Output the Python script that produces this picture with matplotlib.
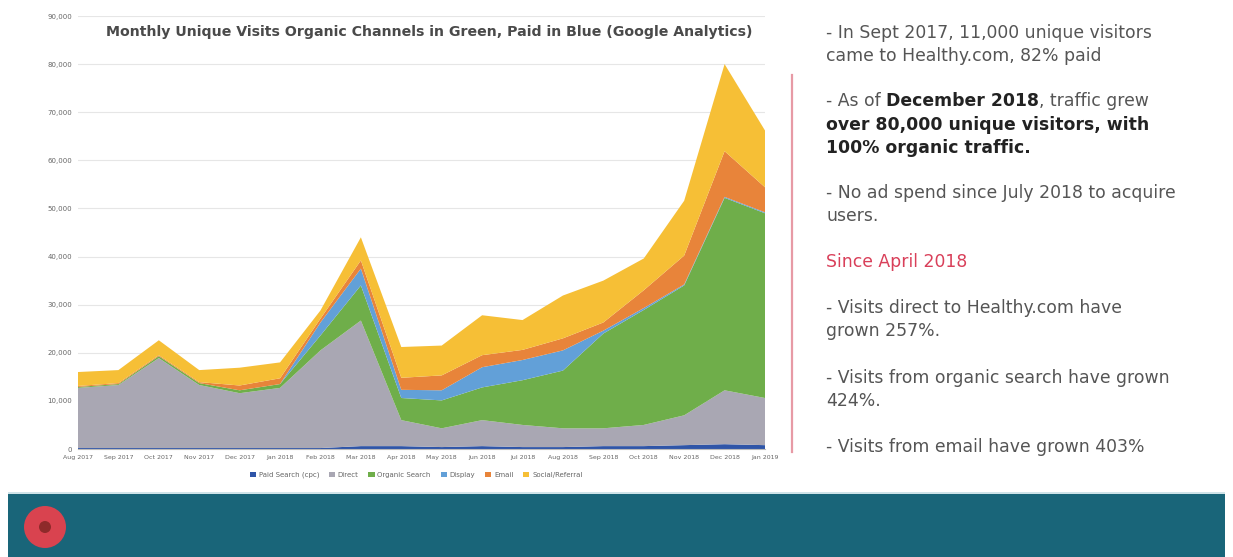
import matplotlib
matplotlib.use("Agg")
import matplotlib.pyplot as plt
from matplotlib.patches import Rectangle, Ellipse
import numpy as np

# ---------------- data ----------------
months = ["Aug 2017", "Sep 2017", "Oct 2017", "Nov 2017", "Dec 2017", "Jan 2018",
          "Feb 2018", "Mar 2018", "Apr 2018", "May 2018", "Jun 2018", "Jul 2018",
          "Aug 2018", "Sep 2018", "Oct 2018", "Nov 2018", "Dec 2018", "Jan 2019"]

paid_search = [200, 200, 200, 200, 200, 200, 200, 600, 600, 400, 600, 400,
               400, 600, 600, 800, 1000, 800]
direct = [12500, 13100, 18700, 13100, 11400, 12500, 20300, 26100, 5400, 3900, 5400, 4600,
          3900, 3700, 4400, 6200, 11200, 9800]
organic = [200, 200, 400, 400, 600, 800, 3100, 7300, 4600, 5800, 6800, 9300,
           12000, 19700, 23900, 27000, 40000, 38400]
display = [0, 0, 0, 0, 0, 0, 2700, 3500, 1700, 2100, 4200, 4200,
           4200, 600, 400, 200, 200, 200]
email = [200, 200, 200, 200, 1000, 1200, 800, 1700, 2500, 3100, 2500, 2100,
         2500, 1700, 3700, 6000, 9500, 5200]
social = [2900, 2700, 3100, 2500, 3700, 3300, 1700, 4800, 6400, 6200, 8300, 6200,
          8900, 8700, 6600, 11400, 18100, 11800]

series_labels = ["Paid Search (cpc)", "Direct", "Organic Search", "Display", "Email", "Social/Referral"]
series_colors = ["#2f55a8", "#a9a7b3", "#6fae4a", "#62a0d8", "#e8843a", "#f6bf36"]

y_ticks = [0, 10000, 20000, 30000, 40000, 50000, 60000, 70000, 80000, 90000]

title = "Monthly Unique Visits Organic Channels in Green, Paid in Blue (Google Analytics)"

# ---------------- figure ----------------
W, H = 1233, 557
fig = plt.figure(figsize=(W / 100, H / 100), dpi=100)
fig.patch.set_facecolor("white")

def fx(px):
    return px / W

def fy(py):
    return 1 - py / H

ax = fig.add_axes([fx(78), fy(449), fx(765) - fx(78), fy(16) - fy(449)])
x = np.arange(len(months))
polys = ax.stackplot(x, paid_search, direct, organic, display, email, social,
                     colors=series_colors, labels=series_labels, linewidth=0)
ax.set_xlim(0, len(months) - 1)
ax.set_ylim(0, 90000)
ax.set_yticks(y_ticks)
ax.set_yticklabels([f"{v:,}" for v in y_ticks], fontsize=5, color="#666666")
ax.set_xticks(x)
ax.set_xticklabels(months, fontsize=4.5, color="#666666")
ax.tick_params(length=0, pad=4)
ax.grid(axis="y", color="#e6e6e6", linewidth=0.8)
ax.set_axisbelow(True)
for s in ["top", "right", "left"]:
    ax.spines[s].set_visible(False)
ax.spines["bottom"].set_color("#bbbbbb")
ax.spines["bottom"].set_linewidth(0.8)

fig.text(fx(429), fy(32), title, ha="center", va="center", fontsize=10.2,
         fontweight="bold", color="#4a4a4a")

fig.legend(handles=polys, labels=series_labels, loc="center", bbox_to_anchor=(fx(416), fy(475)),
           ncol=6, fontsize=5, frameon=False, handlelength=0.9, handleheight=0.6,
           columnspacing=1.4, handletextpad=0.4, labelcolor="#666666")

# vertical separator
fig.add_artist(plt.Line2D([fx(792), fx(792)], [fy(75), fy(452)], color="#e79aa5", linewidth=1.6))

# ---------------- right text ----------------
renderer = fig.canvas.get_renderer()
FS = 12.4
TXT = "#555555"

def space_width(weight):
    a = fig.text(0, 0, "a a", fontsize=FS, fontweight=weight)
    b = fig.text(0, 0, "aa", fontsize=FS, fontweight=weight)
    w = a.get_window_extent(renderer).width - b.get_window_extent(renderer).width
    a.remove()
    b.remove()
    return w

def seg_line(x_px, y_px, segments):
    xpos = x_px
    for i, (txt, weight, color) in enumerate(segments):
        t = fig.text(fx(xpos), fy(y_px), txt, ha="left", va="center", fontsize=FS,
                     fontweight=weight, color=color)
        xpos += t.get_window_extent(renderer).width
        if i < len(segments) - 1 and segments[i + 1][0][:1] not in ",.":
            xpos += space_width(weight)

X0 = 826
lines = [
    (33, [("- In Sept 2017, 11,000 unique visitors", "normal", TXT)]),
    (56, [("came to Healthy.com, 82% paid", "normal", TXT)]),
    (101, [("- As of", "normal", TXT), ("December 2018", "bold", "#222222"), (", traffic grew", "normal", TXT)]),
    (125, [("over 80,000 unique visitors, with", "bold", "#222222")]),
    (148, [("100% organic traffic.", "bold", "#222222")]),
    (193, [("- No ad spend since July 2018 to acquire", "normal", TXT)]),
    (216, [("users.", "normal", TXT)]),
    (262, [("Since April 2018", "normal", "#d9405a")]),
    (308, [("- Visits direct to Healthy.com have", "normal", TXT)]),
    (331, [("grown 257%.", "normal", TXT)]),
    (378, [("- Visits from organic search have grown", "normal", TXT)]),
    (401, [("424%.", "normal", TXT)]),
    (447, [("- Visits from email have grown 403%", "normal", TXT)]),
]
for y_px, segs in lines:
    seg_line(X0, y_px, segs)

# ---------------- bottom band ----------------
fig.add_artist(Rectangle((fx(8), 0), fx(1225) - fx(8), fy(492), transform=fig.transFigure,
                         facecolor="#196579", edgecolor="none"))
fig.add_artist(Rectangle((fx(8), fy(494)), fx(1225) - fx(8), 2 / H, transform=fig.transFigure,
                         facecolor="#cfe3e8", edgecolor="none"))
fig.add_artist(Ellipse((fx(45), fy(527)), 42 / W, 42 / H, transform=fig.transFigure,
                       facecolor="#d9434f", edgecolor="none"))
fig.add_artist(Ellipse((fx(45), fy(527)), 12 / W, 12 / H, transform=fig.transFigure,
                       facecolor="#8e2a2a", edgecolor="none"))

fig.savefig("out.png", dpi=100)
